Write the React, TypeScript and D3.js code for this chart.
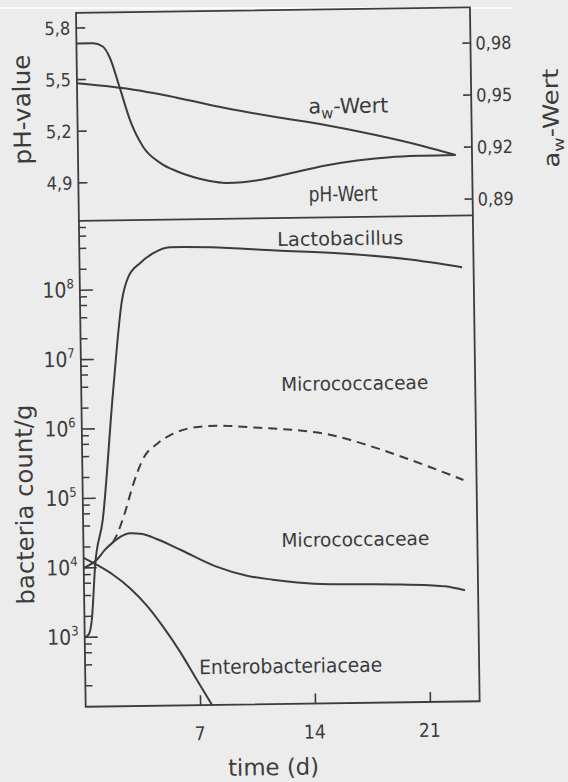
import React from 'react';
import * as d3 from 'd3';

// time axis (days)
const dayTicks = [7, 14, 21];

// upper panel: pH (left axis) and water activity (right axis)
const phTicks = [5.8, 5.5, 5.2, 4.9];
const awTicks = [0.98, 0.95, 0.92, 0.89];

const phDays = [0, 1, 1.6, 2, 2.6, 3.2, 4, 5, 6, 7, 8, 9, 10, 11, 12, 13, 15, 17, 19, 21, 23];
const phValues = [5.71, 5.71, 5.69, 5.63, 5.45, 5.26, 5.1, 5.01, 4.96, 4.925, 4.9, 4.888, 4.891, 4.902, 4.92, 4.94, 4.98, 5.008, 5.024, 5.03, 5.032];

const awDays = [0, 3, 6, 9, 12, 15, 18, 21, 23];
const awValues = [0.96, 0.9565, 0.951, 0.9445, 0.939, 0.934, 0.928, 0.921, 0.9155];

// lower panel: bacteria count per g
const decadeTicks = [1e3, 1e4, 1e5, 1e6, 1e7, 1e8];
const minorSteps = [2, 4, 6, 8];

const lactoDays = [0, 0.25, 0.45, 0.7, 1.2, 1.93, 2.56, 2.95, 3.7, 4.5, 5.5, 8, 12, 16, 20, 23.3];
const lactoCounts = [1.0e3, 1.1e3, 1.8e3, 1.1e4, 4.9e4, 3.3e6, 7.1e7, 1.5e8, 2.4e8, 3.3e8, 4.0e8, 3.9e8, 3.4e8, 3.0e8, 2.4e8, 1.8e8];

const microDays = [0, 0.8, 1.3, 1.8, 2.3, 2.85, 3.6, 4.5, 6, 8, 10, 11.5, 13, 15, 17, 19, 21, 22, 23.2];
const microCounts = [1.0e4, 1.3e4, 1.8e4, 2.3e4, 2.8e4, 3.1e4, 3.0e4, 2.5e4, 1.7e4, 1.0e4, 7.1e3, 6.2e3, 5.6e3, 5.2e3, 5.1e3, 5.0e3, 4.8e3, 4.6e3, 4.0e3];

const microDashDays = [1.8, 2.0, 2.5, 3.1, 3.7, 4.6, 5.5, 6.8, 8.2, 10.8, 13.3, 15.1, 16.6, 18.1, 21.2, 23.2];
const microDashCounts = [2.3e4, 2.8e4, 5.6e4, 1.6e5, 3.6e5, 6.0e5, 8.1e5, 1.0e6, 1.05e6, 9.6e5, 8.6e5, 7.4e5, 5.9e5, 4.5e5, 2.4e5, 1.55e5];

const enteroDays = [0, 0.8, 1.8, 2.8, 3.8, 4.8, 5.8, 6.8, 7.7];
const enteroCounts = [1.4e4, 1.1e4, 7.8e3, 5.0e3, 2.8e3, 1.35e3, 5.9e2, 2.3e2, 1.0e2];

const FONT = "'DejaVu Sans Condensed', 'DejaVu Sans', sans-serif";
const INK = '#3c3c3c';

const comma = (v: number) => String(v).replace('.', ',');

export default function App() {
  const L = 81, R = 475, T1 = 10, B1 = 218, B2 = 704;

  const x = d3.scaleLinear().domain([0, 24]).range([L, R]);
  const yPh = d3.scaleLinear().domain([4.68, 5.888]).range([B1, T1]);
  const yAw = d3.scaleLinear().domain([0.8806, 1.0006]).range([B1, T1]);
  const yN = d3.scaleLog().domain([1e2, 1e9]).range([B2, B1]);

  const path = (days: number[], vals: number[], ys: (v: number) => number) =>
    d3.line<number>()
      .x((_, i) => x(days[i]))
      .y(d => ys(d))
      .curve(d3.curveMonotoneX)(vals) || '';

  const minor: number[] = [];
  [1e2, ...decadeTicks].forEach(d => minorSteps.forEach(k => { if (d * k < 1e9) minor.push(d * k); }));

  const curve = { fill: 'none', stroke: INK, strokeWidth: 2 };

  return (
    <svg width={568} height={782} style={{ position: 'absolute', left: 0, top: 0, display: 'block' }}
      fontFamily={FONT}>
      <rect width={568} height={782} fill="#ececec" />
      <rect x={0} y={7} width={512} height={2} fill="#fbfbfb" />
      <g transform="rotate(-0.8 280 370)" fill={INK}>
        {/* frames */}
        <rect x={L} y={T1} width={R - L} height={B2 - T1} fill="none" stroke={INK} strokeWidth={1.8} />
        <line x1={L} x2={R} y1={B1} y2={B1} stroke={INK} strokeWidth={1.8} />

        {/* upper panel axes */}
        {phTicks.map(t => (
          <g key={'ph' + t}>
            <line x1={L} x2={L + 9} y1={yPh(t)} y2={yPh(t)} stroke={INK} strokeWidth={1.6} />
            <text x={L - 6} y={yPh(t) + 6.5} textAnchor="end" fontSize={18}>{comma(t)}</text>
          </g>
        ))}
        {awTicks.map(t => (
          <g key={'aw' + t}>
            <line x1={R - 8} x2={R} y1={yAw(t)} y2={yAw(t)} stroke={INK} strokeWidth={1.6} />
            <text x={R + 5} y={yAw(t) + 6.5} fontSize={18}>{comma(t)}</text>
          </g>
        ))}
        <path d={path(phDays, phValues, yPh)} {...curve} />
        <path d={path(awDays, awValues, yAw)} {...curve} />
        <text x={312} y={114} fontSize={21} textLength={80} lengthAdjust="spacingAndGlyphs">
          a<tspan dy={5} fontSize={15}>w</tspan><tspan dy={-5}>-Wert</tspan>
        </text>
        <text x={311} y={202} fontSize={21} textLength={69} lengthAdjust="spacingAndGlyphs">pH-Wert</text>

        {/* lower panel axes */}
        {minor.map(v => (
          <line key={'mn' + v} x1={L} x2={L + 7} y1={yN(v)} y2={yN(v)} stroke={INK} strokeWidth={1.5} />
        ))}
        {decadeTicks.map(v => (
          <g key={'dc' + v}>
            <line x1={L} x2={L + 13} y1={yN(v)} y2={yN(v)} stroke={INK} strokeWidth={1.6} />
            <text x={L - 6} y={yN(v) + 7} textAnchor="end" fontSize={21}>
              10<tspan dy={-9} fontSize={13}>{Math.round(Math.log10(v))}</tspan>
            </text>
          </g>
        ))}
        {dayTicks.map(t => (
          <g key={'d' + t}>
            <line x1={x(t)} x2={x(t)} y1={B2} y2={B2 - 10} stroke={INK} strokeWidth={1.6} />
            <text x={x(t) - 1} y={B2 + 35} textAnchor="middle" fontSize={19}>{t}</text>
          </g>
        ))}

        <path d={path(lactoDays, lactoCounts, yN)} {...curve} />
        <path d={path(microDays, microCounts, yN)} {...curve} />
        <path d={path(microDashDays, microDashCounts, yN)} {...curve} strokeDasharray="9 6" />
        <path d={path(enteroDays, enteroCounts, yN)} {...curve} />

        <text x={279} y={246} fontSize={19} textLength={126} lengthAdjust="spacingAndGlyphs">Lactobacillus</text>
        <text x={281} y={391} fontSize={19} textLength={147} lengthAdjust="spacingAndGlyphs">Micrococcaceae</text>
        <text x={279} y={547} fontSize={19} textLength={148} lengthAdjust="spacingAndGlyphs">Micrococcaceae</text>
        <text x={195} y={673} fontSize={20} textLength={183} lengthAdjust="spacingAndGlyphs">Enterobacteriaceae</text>

        {/* axis titles */}
        <text x={268} y={775} textAnchor="middle" fontSize={23} textLength={91} lengthAdjust="spacingAndGlyphs">time (d)</text>
        <text transform="translate(34,106) rotate(-90)" textAnchor="middle" fontSize={24}
          textLength={110} lengthAdjust="spacingAndGlyphs">pH-value</text>
        <text transform="translate(31,501) rotate(-90)" textAnchor="middle" fontSize={24}
          textLength={200} lengthAdjust="spacingAndGlyphs">bacteria count/g</text>
        <text transform="translate(562,122) rotate(-90)" textAnchor="middle" fontSize={22}
          textLength={99} lengthAdjust="spacingAndGlyphs">
          a<tspan dy={5} fontSize={15}>w</tspan><tspan dy={-5}>-Wert</tspan>
        </text>
      </g>
    </svg>
  );
}
